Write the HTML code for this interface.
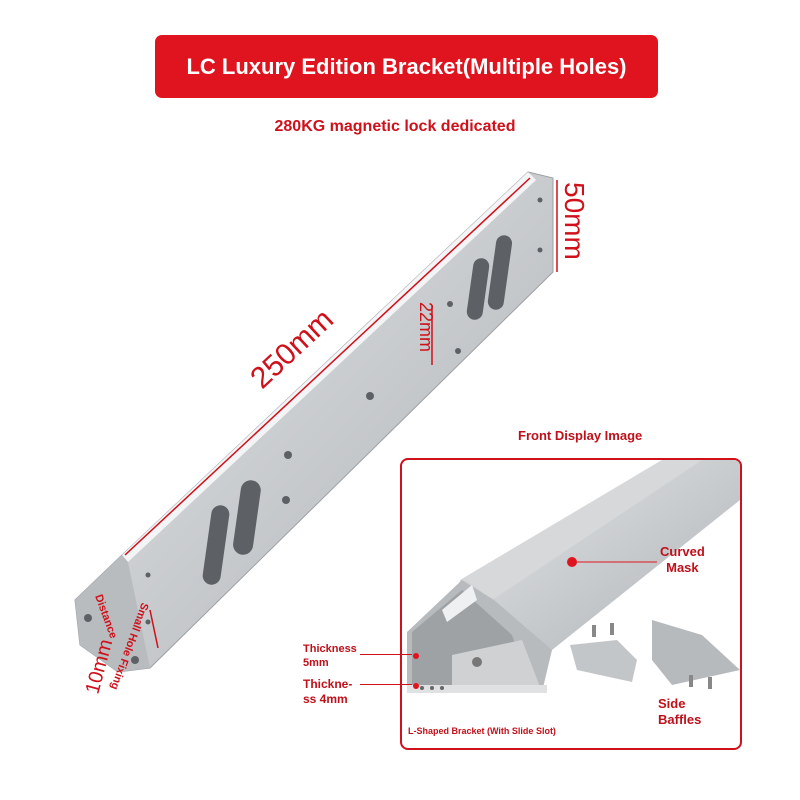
<!DOCTYPE html>
<html><head><meta charset="utf-8"><style>
html,body{margin:0;padding:0;background:#fff;}
body{width:800px;height:800px;position:relative;overflow:hidden;font-family:"Liberation Sans",sans-serif;}
.banner{position:absolute;left:155px;top:35px;width:503px;height:63px;background:#e0141e;border-radius:7px;color:#fff;font-size:22px;font-weight:bold;line-height:63px;text-align:center;}
.sub{position:absolute;left:0;width:790px;top:118px;text-align:center;color:#d0101a;font-weight:bold;font-size:16px;}
.box{position:absolute;left:400px;top:458px;width:338px;height:288px;border:2px solid #d0101a;border-radius:8px;overflow:hidden;}
.t{position:absolute;color:#c0101a;font-weight:bold;}
</style></head><body>
<div class="banner">LC Luxury Edition Bracket(Multiple Holes)</div>
<div class="sub">280KG magnetic lock dedicated</div>
<div class="t" style="left:518px;top:428px;font-size:13px;">Front Display Image</div>

<svg width="800" height="800" style="position:absolute;left:0;top:0">
<defs>
<linearGradient id="g1" x1="0" y1="0" x2="1" y2="1">
<stop offset="0" stop-color="#e4e6e8"/><stop offset="0.5" stop-color="#c9cccf"/><stop offset="1" stop-color="#aeb1b5"/></linearGradient>
</defs>
<polygon points="528,172 553,178 553,272 150,668 118,672 80,645 75,600 122,555" fill="url(#g1)" stroke="#9da0a4"/>
<polygon points="528,172 122,555 128,562 536,180" fill="#f3f4f5"/>
<polygon points="75,600 122,555 128,562 150,668 118,672 80,645" fill="#b9bcbf"/>
<g fill="#5d6064">
<rect x="470" y="258" width="16" height="62" rx="8" transform="rotate(8 478 289)"/>
<rect x="492" y="235" width="16" height="75" rx="8" transform="rotate(8 500 272)"/>
<rect x="207" y="505" width="18" height="80" rx="9" transform="rotate(8 216 545)"/>
<rect x="237" y="480" width="20" height="75" rx="10" transform="rotate(8 247 517)"/>
<circle cx="370" cy="396" r="4"/><circle cx="288" cy="455" r="4"/><circle cx="286" cy="500" r="4"/>
<circle cx="450" cy="304" r="3"/><circle cx="458" cy="351" r="3"/><circle cx="540" cy="200" r="2.5"/><circle cx="540" cy="250" r="2.5"/>
<circle cx="148" cy="575" r="2.5"/><circle cx="148" cy="622" r="2.5"/><circle cx="88" cy="618" r="4"/><circle cx="135" cy="660" r="4"/>
</g>
<g stroke="#d0101a" stroke-width="1.5" fill="#d0101a">
<line x1="125" y1="555" x2="530" y2="178"/>
<line x1="557" y1="180" x2="557" y2="272"/>
<line x1="432" y1="305" x2="432" y2="365"/>
<line x1="150" y1="610" x2="158" y2="648"/>
</g>
<text transform="translate(262,390) rotate(-43)" font-size="30" fill="#d0101a" font-family="Liberation Sans">250mm</text>
<text transform="translate(565,182) rotate(90)" font-size="28" fill="#d0101a" font-family="Liberation Sans">50mm</text>
<text transform="translate(420,302) rotate(90)" font-size="18" fill="#d0101a" font-family="Liberation Sans">22mm</text>
<text transform="translate(98,695) rotate(-75)" font-size="20" fill="#d0101a" font-family="Liberation Sans">10mm</text>
<text transform="translate(95,596) rotate(70)" font-size="11" fill="#d0101a" font-weight="bold" font-family="Liberation Sans">Distance</text>
<text transform="translate(142,602) rotate(110)" font-size="11" fill="#d0101a" font-weight="bold" font-family="Liberation Sans">Small Hole Fixing</text>
</svg>

<div class="box">
<svg width="338" height="288" style="position:absolute;left:0;top:0">
<polygon points="58,120 260,0 338,0 338,40 150,190 60,200" fill="url(#g1)"/>
<polygon points="62,118 260,0 300,0 90,140" fill="#d6d8da"/>
<polygon points="5,172 60,120 92,140 150,190 140,232 5,232" fill="#b8bbbe"/>
<polygon points="10,172 60,130 110,175 130,230 10,230" fill="#9fa2a5"/>
<polygon points="50,195 120,180 140,232 50,232" fill="#cfd1d3"/>
<polygon points="40,150 70,125 75,140 45,162" fill="#eef0f1"/>
<rect x="5" y="225" width="140" height="8" fill="#dfe1e2"/>
<circle cx="75" cy="202" r="5" fill="#777"/>
<g fill="#666"><circle cx="20" cy="228" r="2"/><circle cx="30" cy="228" r="2"/><circle cx="40" cy="228" r="2"/></g>
<polygon points="168,185 215,180 235,200 230,222 175,210" fill="#c3c6c9"/>
<polygon points="250,160 300,175 338,210 270,225 250,200" fill="#b7babd"/>
<g fill="#888"><rect x="190" y="165" width="4" height="12"/><rect x="208" y="163" width="4" height="12"/><rect x="287" y="215" width="4" height="12"/><rect x="306" y="217" width="4" height="12"/></g>
<circle cx="170" cy="102" r="5" fill="#e0141e"/>
<line x1="175" y1="102" x2="255" y2="102" stroke="#e0141e"/>
<circle cx="14" cy="196" r="3" fill="#e0141e"/><circle cx="14" cy="226" r="3" fill="#e0141e"/>
</svg>
<div class="t" style="left:258px;top:84px;font-size:13px;text-align:center;line-height:16px;">Curved<br>Mask</div>
<div class="t" style="left:256px;top:236px;font-size:13px;line-height:16px;">Side<br>Baffles</div>
<div class="t" style="left:6px;top:266px;font-size:9px;">L-Shaped Bracket (With Slide Slot)</div>
</div>
<div class="t" style="left:303px;top:642px;font-size:11px;line-height:14px;">Thickness<br>5mm</div>
<div class="t" style="left:303px;top:677px;font-size:12px;line-height:15px;">Thickne-<br>ss 4mm</div>
<div style="position:absolute;left:360px;top:654px;width:52px;height:1px;background:#d0101a"></div>
<div style="position:absolute;left:360px;top:684px;width:52px;height:1px;background:#d0101a"></div>
</body></html>
